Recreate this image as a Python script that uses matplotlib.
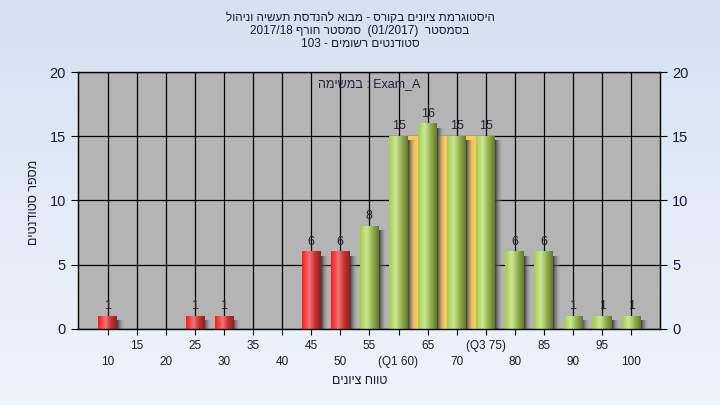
import re
import numpy as np
import matplotlib
matplotlib.use("Agg")
import matplotlib.pyplot as plt
from matplotlib.colors import LinearSegmentedColormap

plt.rcParams["font.family"] = ["Liberation Sans", "DejaVu Sans"]

# data
grades = [10, 15, 20, 25, 30, 35, 40, 45, 50, 55, 60, 65, 70, 75, 80, 85, 90, 95, 100]
counts = [1, 0, 0, 1, 1, 0, 0, 6, 6, 8, 15, 16, 15, 15, 6, 6, 1, 1, 1]
tick_labels = ["10", "15", "20", "25", "30", "35", "40", "45", "50", "55",
               "(Q1 60)", "65", "70", "(Q3 75)", "80", "85", "90", "95", "100"]
pass_grade = 55
q1_grade, q3_grade = 60, 75
band_height = 15

title_lines = ["היסטוגרמת ציונים בקורס - מבוא להנדסת תעשיה וניהול",
               "בסמסטר  (01/2017)  סמסטר חורף 2017/18",
               "סטודנטים רשומים - 103"]
task_label = "במשימה"
task_name = "Exam_A"
xlabel = "טווח ציונים"
ylabel = "מספר סטודנטים"


def visual(s):
    # crude bidi: flip the RTL string, keep LTR runs in reading order
    r = s[::-1]
    r = re.sub(r"[0-9A-Za-z_/.]+", lambda m: m.group(0)[::-1], r)
    return r.translate(str.maketrans("()", ")("))


fig = plt.figure(figsize=(7.2, 4.05), dpi=100)
# light blue figure background gradient
bg = fig.add_axes([0, 0, 1, 1], zorder=-10)
bg.imshow(np.linspace(0, 1, 50).reshape(-1, 1), aspect="auto",
          cmap=LinearSegmentedColormap.from_list("bg", ["#d6e2f1", "#eef4fc"]),
          extent=(0, 1, 0, 1))
bg.axis("off")

ax = fig.add_axes([0.108, 0.188, 0.809, 0.634])
ax.set_facecolor("#b4b4b4")

x = np.arange(len(grades))
w = 0.65

red_cm = LinearSegmentedColormap.from_list(
    "r", [(0, "#ff1a1a"), (0.4, "#f07474"), (0.7, "#c83030"), (1, "#902020")])
green_cm = LinearSegmentedColormap.from_list(
    "g", [(0, "#a6cc4e"), (0.35, "#cce894"), (0.7, "#8fac48"), (1, "#627a2c")])
shadow_cm = LinearSegmentedColormap.from_list(
    "s", [(0, (0.2, 0.2, 0.2, 0.95)), (1, (0.7, 0.7, 0.7, 0.0))])
grad = np.linspace(0, 1, 64).reshape(1, -1)

# Q1-Q3 band
i1, i3 = grades.index(q1_grade), grades.index(q3_grade)
ax.fill_between([i1, i3], 0, band_height, color="#fec958", zorder=1, lw=0)

for xi, g, c in zip(x, grades, counts):
    if c == 0:
        continue
    cm = green_cm if g >= pass_grade else red_cm
    # shadow
    ax.imshow(grad, aspect="auto", cmap=shadow_cm, zorder=2,
              extent=(xi + w / 2, xi + w / 2 + 0.25, 0, max(c - 0.35, 0.1)))
    ax.imshow(grad, aspect="auto", cmap=cm, zorder=3,
              extent=(xi - w / 2, xi + w / 2, 0, c))
    ax.text(xi, c + 0.3, str(c), ha="center", va="bottom", fontsize=9,
            color="#202030", zorder=5)

ax.set_xlim(-1.03, 19.0)
ax.set_ylim(0, 20)
ax.set_yticks([0, 5, 10, 15, 20])
ax.grid(True, color="black", lw=0.9, zorder=0)
ax.set_axisbelow(True)
for sp in ax.spines.values():
    sp.set_color("black")
    sp.set_linewidth(1)
    sp.set_zorder(6)

ax.set_xticks(x)
ax.set_xticklabels([])
ax.tick_params(axis="x", length=4, color="black")
ax.tick_params(axis="y", labelsize=10.5, labelcolor="#1a1a40", length=5,
               left=True, right=True, labelleft=True, labelright=True)
for xi, lab in zip(x, tick_labels):
    row = 0 if xi % 2 == 1 else 1
    ax.text(xi, -1.3 - row * 1.25, lab, ha="center", va="center",
            fontsize=8.5, color="#1a1a30", clip_on=False)

ax.text(0.5, 0.955, visual(task_label) + " : " + task_name, transform=ax.transAxes,
        ha="center", va="center", fontsize=9, color="#202040")

fig.text(0.5, 24 / 405, visual(xlabel), ha="center", va="center",
         fontsize=9, color="#1a1a30")
fig.text(0.047, 0.5, visual(ylabel), ha="center", va="center", rotation=90,
         fontsize=9, color="#1a1a30")
for k, line in enumerate(title_lines):
    fig.text(0.5, 1 - (18 + k * 13) / 405, visual(line), ha="center",
             va="center", fontsize=8.5, color="#1a1a30")

fig.savefig("out.png", dpi=100)
